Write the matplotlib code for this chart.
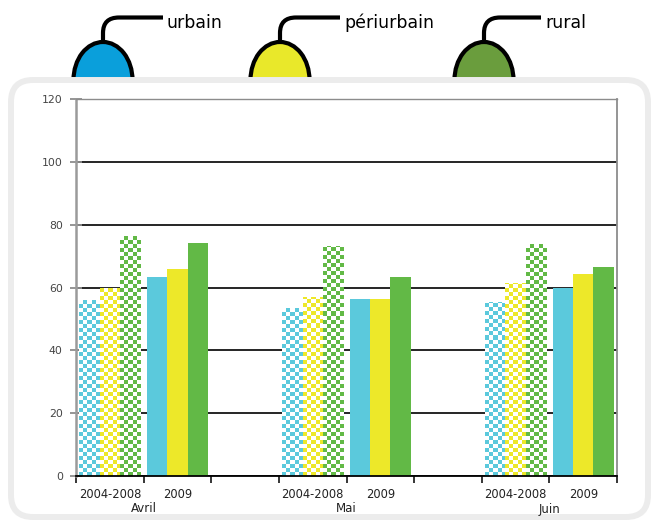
import math
import numpy as np
import matplotlib
matplotlib.use("Agg")
import matplotlib.pyplot as plt
from matplotlib.patches import Ellipse, FancyBboxPatch, PathPatch
from matplotlib.path import Path
from matplotlib.transforms import blended_transform_factory, offset_copy

# --- data -------------------------------------------------------------
months = ["Avril", "Mai", "Juin"]
periods = ["2004-2008", "2009"]
zones = ["urbain", "périurbain", "rural"]

urbain_0408 = [56.0, 53.4, 55.5]
periurbain_0408 = [60.0, 57.1, 61.3]
rural_0408 = [76.3, 73.3, 74.0]

urbain_2009 = [63.2, 56.2, 60.0]
periurbain_2009 = [66.0, 56.2, 64.2]
rural_2009 = [74.2, 63.5, 66.6]

y_ticks = [0, 20, 40, 60, 80, 100, 120]

# --- styles -----------------------------------------------------------
bar_colors = ["#5BC9DC", "#EDE829", "#62B946"]
pin_colors = ["#0A9FDB", "#E9E82A", "#6A9D3D"]

W, H = 655, 521
fig = plt.figure(figsize=(W / 100, H / 100), dpi=100)
fig.patch.set_facecolor("white")

# background layer in pixel coordinates (y downward)
bg = fig.add_axes([0, 0, 1, 1], zorder=0)
bg.set_xlim(0, W)
bg.set_ylim(H, 0)
bg.axis("off")

pin_x = [103, 280, 484]
cord_end = [163, 340, 541]
for name, cx, xe, col in zip(zones, pin_x, cord_end, pin_colors):
    dome = Ellipse((cx, 80), 59, 76, facecolor=col, edgecolor="black",
                   lw=3.0, zorder=1)
    bg.add_patch(dome)
    verts = [(cx, 44), (cx, 33), (cx, 17.5), (cx + 16, 17.5), (xe, 17.5)]
    codes = [Path.MOVETO, Path.LINETO, Path.CURVE3, Path.CURVE3, Path.LINETO]
    bg.add_patch(PathPatch(Path(verts, codes), facecolor="none",
                           edgecolor="black", lw=3.0, capstyle="butt",
                           joinstyle="round", zorder=1))
    bg.text(xe + 4, 28, name, fontsize=12.5, color="black",
            ha="left", va="baseline", family="DejaVu Sans")

frame = FancyBboxPatch((11, 80), 637, 437,
                       boxstyle="round,pad=0,rounding_size=22",
                       facecolor="white", edgecolor="#ECECEC", lw=4.3,
                       zorder=2)
bg.add_patch(frame)

# --- main chart -------------------------------------------------------
ax_l, ax_r, ax_t, ax_b = 76, 617, 99, 476
ax = fig.add_axes([ax_l / W, 1 - ax_b / H, (ax_r - ax_l) / W, (ax_b - ax_t) / H],
                  zorder=1)
ax.set_facecolor("none")

n_slots = 3 * len(months) - 1
pos_0408 = np.array([3 * i for i in range(len(months))])
pos_2009 = pos_0408 + 1
bw = 0.3
offsets = [-bw, 0.0, bw]

ax.set_xlim(-0.5, n_slots - 0.5)
ax.set_ylim(0, 120)

# checker cell height in data units (about 4 px)
cell_h = 120 / (ax_b - ax_t) * 4.0


def checker_bars(x, values, color):
    bars = ax.bar(x, values, width=bw, color="white", edgecolor="none",
                  zorder=2)
    rgb = matplotlib.colors.to_rgb(color)
    for rect in bars:
        x0, w, h = rect.get_x(), rect.get_width(), rect.get_height()
        ny = int(math.ceil(h / cell_h))
        nx = 5
        img = np.ones((ny, nx, 3))
        jj, ii = np.meshgrid(np.arange(nx), np.arange(ny))
        mask = (ii + jj) % 2 == 0
        img[mask] = rgb
        im = ax.imshow(img, extent=[x0, x0 + w, 0, ny * cell_h],
                       origin="lower", interpolation="nearest",
                       aspect="auto", zorder=2.1)
        im.set_clip_path(rect)


for vals, col, off in zip([urbain_0408, periurbain_0408, rural_0408],
                          bar_colors, offsets):
    checker_bars(pos_0408 + off, vals, col)

for vals, col, off in zip([urbain_2009, periurbain_2009, rural_2009],
                          bar_colors, offsets):
    ax.bar(pos_2009 + off, vals, width=bw, color=col, edgecolor="none",
           zorder=2)

ax.set_xlim(-0.5, n_slots - 0.5)
ax.set_ylim(0, 120)

# grid and spines
ax.set_axisbelow(True)
ax.set_yticks(y_ticks)
ax.yaxis.grid(True, color="black", lw=1.2)
ax.set_yticklabels([str(v) for v in y_ticks], fontsize=7.8, color="#444444")
ax.tick_params(axis="y", direction="inout", length=9, width=1.3,
               color="#8C8C8C", pad=5)
ax.spines["left"].set_color("#9A9A9A")
ax.spines["left"].set_linewidth(1.8)
ax.spines["top"].set_color("#8C8C8C")
ax.spines["top"].set_linewidth(1.0)
ax.spines["right"].set_color("#8C8C8C")
ax.spines["right"].set_linewidth(1.3)
ax.spines["bottom"].set_color("black")
ax.spines["bottom"].set_linewidth(1.3)
for gl in ax.yaxis.get_gridlines()[-1:]:
    gl.set_visible(False)

# x axis: period labels at slot centres, ticks at slot boundaries
slot_pos = list(range(n_slots))
slot_labels = [""] * n_slots
for p0, p1 in zip(pos_0408, pos_2009):
    slot_labels[p0] = periods[0]
    slot_labels[p1] = periods[1]
ax.set_xticks(slot_pos)
ax.set_xticklabels(slot_labels, fontsize=8.3, color="#222222")
ax.tick_params(axis="x", which="major", length=0, pad=9)
ax.set_xticks(np.arange(-0.5, n_slots, 1.0), minor=True)
ax.tick_params(axis="x", which="minor", direction="out", length=5,
               width=1.1, color="black")

trans = blended_transform_factory(ax.transData, ax.transAxes)
for i, m in enumerate(months):
    xm = (pos_0408[i] + pos_2009[i]) / 2
    t = offset_copy(trans, fig=fig, x=0, y=-32 - (2 if i == 2 else 0),
                    units="dots")
    ax.text(xm, 0, m, transform=t, fontsize=8.5, color="#222222",
            ha="center", va="center")

fig.savefig("out.png", dpi=100, facecolor="white")
